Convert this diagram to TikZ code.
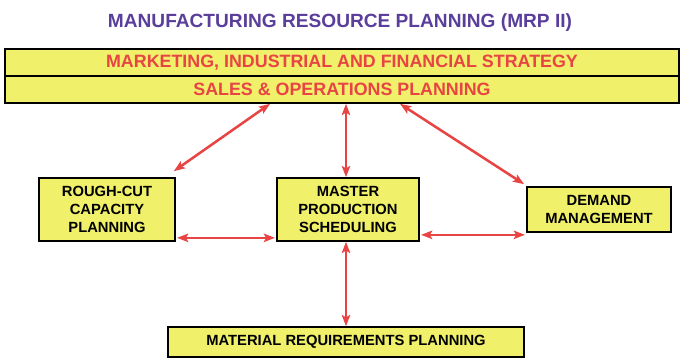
\documentclass[tikz,border=0pt]{standalone}
\usepackage{fontspec}
\setmainfont{Liberation Sans}
\usepackage{xcolor}
\usepackage{tikz}
\usetikzlibrary{arrows.meta,positioning}
\definecolor{boxyellow}{RGB}{240,240,106}
\definecolor{linkred}{RGB}{232,68,68}
\definecolor{titlepurple}{RGB}{90,62,155}
\begin{document}
\begin{tikzpicture}[>={Stealth[length=2.8mm,width=2.1mm,inset=0.6mm]},
 box/.style={draw,line width=1.2pt,fill=boxyellow,align=center,inner sep=0pt,font=\bfseries\fontsize{10.5}{12.8}\selectfont},
 band/.style={draw,line width=1.2pt,fill=boxyellow,minimum width=16.85cm,minimum height=0.675cm,inner sep=0pt,text=linkred,font=\bfseries\fontsize{12.7}{14}\selectfont},
 link/.style={<->,draw=linkred,line width=1.8pt}]
\useasboundingbox (0,0) rectangle (17,9);
\node[text=titlepurple,font=\bfseries\fontsize{13.6}{15}\selectfont] (title) at (8.5,8.44) {MANUFACTURING RESOURCE PLANNING (MRP II)};
\node[band] (strat) at (8.55,7.4375) {MARKETING, INDUSTRIAL AND FINANCIAL STRATEGY};
\node[band] (sop) at (8.55,6.7625) {SALES \& OPERATIONS PLANNING};
\node[box,minimum width=3.4cm,minimum height=1.575cm] (rccp) at (2.675,3.7625) {ROUGH-CUT\\CAPACITY\\PLANNING};
\node[box,minimum width=3.55cm,minimum height=1.575cm] (mps) at (8.7,3.7625) {MASTER\\PRODUCTION\\SCHEDULING};
\node[box,minimum width=3.6cm,minimum height=1.125cm] (dm) at (14.975,3.7625) {DEMAND\\MANAGEMENT};
\node[box,minimum width=8.9cm,minimum height=0.75cm] (mrp) at (8.65,0.45) {MATERIAL REQUIREMENTS PLANNING};
\coordinate (dmlow) at ([yshift=-0.05cm]dm.south west);
\draw[link] ([xshift=-1.8cm]sop.south) -- ([shift={(-0.05,0.15)}]rccp.north east);
\draw[link] ([xshift=-0.05cm]mps.north |- sop.south) -- ([xshift=-0.05cm]mps.north);
\draw[link] ([xshift=1.45cm]sop.south) -- ([shift={(-0.05,0.05)}]dm.north west);
\draw[link] ([shift={(0.03,0.1)}]rccp.south east) -- ([shift={(-0.03,0.1)}]mps.south west);
\draw[link] ([xshift=0.03cm]mps.east |- dmlow) -- ([xshift=-0.03cm]dmlow);
\draw[link] ([xshift=-0.05cm]mps.south) -- ([xshift=-0.05cm]mps.south |- mrp.north);
\end{tikzpicture}
\end{document}
